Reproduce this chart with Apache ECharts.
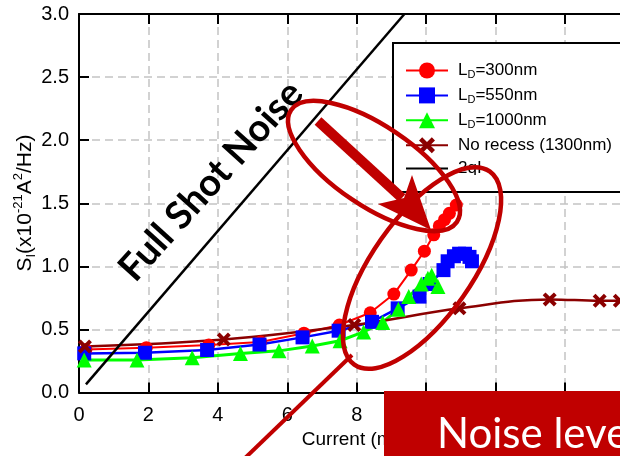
<!DOCTYPE html>
<html><head><meta charset="utf-8">
<script src="https://cdn.jsdelivr.net/npm/echarts@6/dist/echarts.min.js"></script>
<style>html,body{margin:0;padding:0;background:#fff}#c{width:620px;height:456px}</style>
</head><body><div id="c"></div>
<script>
// ---- data (Current in mA, S_I in 1e-21 A^2/Hz) ----
const seriesNames = ['LD=300nm', 'LD=550nm', 'LD=1000nm', 'No recess (1300nm)', '2qI'];
const ld300 = [[0.2,0.34],[1.94,0.355],[3.74,0.376],[5.23,0.40],[6.48,0.47],[7.5,0.535],[8.39,0.632],[9.07,0.78],[9.57,0.97],[9.95,1.12],[10.22,1.25],[10.38,1.32],[10.53,1.37],[10.67,1.42],[10.87,1.486]];
const ld550 = [[0.15,0.31],[1.9,0.315],[3.69,0.337],[5.2,0.38],[6.44,0.437],[7.48,0.49],[8.44,0.56],[9.18,0.667],[9.81,0.76],[10.1,0.86],[10.5,0.97],[10.62,1.04],[10.8,1.08],[10.95,1.1],[11.12,1.1],[11.25,1.075],[11.32,1.04]];
const ld1000 = [[0.15,0.257],[1.67,0.257],[3.26,0.276],[4.65,0.31],[5.76,0.33],[6.72,0.368],[7.52,0.41],[8.2,0.48],[8.75,0.555],[9.2,0.66],[9.5,0.76],[9.86,0.86],[10.05,0.905],[10.16,0.93],[10.34,0.84]];
const noRecess = [[0.17,0.365],[4.17,0.42],[7.93,0.535],[10.96,0.667],[13.56,0.738],[15.0,0.727],[15.58,0.727]];
const fullShot = [[0.2,0.064],[9.375,3.0]];
const xMin = 0, xMax = 16, xStep = 2;
const yMin = 0, yMax = 3, yStep = 0.5;
const xTitle = 'Current (mA)';
const annotationText = 'Noise level';
const shotText = 'Full Shot Noise';

const FONT = "'Liberation Sans', Arial, sans-serif";
const DARKRED = '#C00000';
const xPath = 'path://M2,0 L5,3 L8,0 L10,2 L7,5 L10,8 L8,10 L5,7 L2,10 L0,8 L3,5 L0,2 Z';

const chart = echarts.init(document.getElementById('c'), null, {renderer: 'canvas'});

const gridLine = {show: true, lineStyle: {color: '#c4c4c4', width: 1.5, type: [8, 5]}};
const axisLine = {show: true, onZero: false, lineStyle: {color: '#000', width: 2}};
const axisTick = {show: true, inside: true, length: 10, lineStyle: {color: '#000', width: 2}};

const legendData = seriesNames.map((n, i) => i === 4
  ? {name: n, itemStyle: {color: 'rgba(0,0,0,0)', borderWidth: 0}}
  : {name: n});

const option = {
  animation: false,
  backgroundColor: '#fff',
  grid: {left: 79, top: 14, width: 555.4, height: 378.5, containLabel: false, outerBoundsMode: 'none'},
  xAxis: [{
    type: 'value', min: xMin, max: xMax, interval: xStep, position: 'bottom',
    axisLine, axisTick, splitLine: gridLine,
    axisLabel: {color: '#000', fontSize: 20, fontFamily: FONT, margin: 13},
    name: xTitle, nameLocation: 'middle', nameGap: 35,
    nameTextStyle: {color: '#000', fontSize: 19, fontFamily: FONT}
  }, {
    type: 'value', min: xMin, max: xMax, interval: xStep, position: 'top',
    axisLine, axisTick, splitLine: {show: false}, axisLabel: {show: false}
  }],
  yAxis: [{
    type: 'value', min: yMin, max: yMax, interval: yStep,
    axisLine, axisTick, splitLine: gridLine,
    axisLabel: {color: '#000', fontSize: 20, fontFamily: FONT, margin: 10,
      formatter: v => v.toFixed(1)}
  }],
  legend: {
    orient: 'vertical', left: 393, top: 43,
    padding: [19, 20, 15, 12],
    itemWidth: 42, itemHeight: 20, itemGap: 6.4,
    backgroundColor: '#fff', borderColor: '#000', borderWidth: 2,
    data: legendData,
    formatter: function (name) {
      if (name.indexOf('LD=') === 0) return '{f|L}{s|D}{n|' + name.slice(2) + '}';
      return '{f|' + name + '}';
    },
    textStyle: {
      color: '#000', fontSize: 17, fontFamily: FONT,
      rich: {
        f: {fontSize: 17, fontFamily: FONT, color: '#000', lineHeight: 20, padding: [0, 0, 0, 5], verticalAlign: 'middle'},
        n: {fontSize: 17, fontFamily: FONT, color: '#000', lineHeight: 20, verticalAlign: 'middle'},
        s: {fontSize: 11, fontFamily: FONT, color: '#000', lineHeight: 11, verticalAlign: 'bottom'}
      }
    }
  },
  series: [
    {name: seriesNames[0], type: 'line', data: ld300, symbol: 'circle', symbolSize: 13,
      itemStyle: {color: '#ff0000'}, lineStyle: {color: '#ff0000', width: 2}},
    {name: seriesNames[1], type: 'line', data: ld550, symbol: 'rect', symbolSize: 14,
      itemStyle: {color: '#0000ff'}, lineStyle: {color: '#0000ff', width: 2.5}},
    {name: seriesNames[2], type: 'line', data: ld1000, symbol: 'triangle', symbolSize: 15,
      itemStyle: {color: '#00ff00'}, lineStyle: {color: '#00ff00', width: 3}},
    {name: seriesNames[3], type: 'line', data: noRecess, symbol: xPath, symbolSize: 14, smooth: 0.4,
      itemStyle: {color: '#8b0000'}, lineStyle: {color: '#8b0000', width: 2.5}},
    {name: seriesNames[4], type: 'line', data: fullShot, symbol: 'none',
      itemStyle: {color: '#000'}, lineStyle: {color: '#000', width: 2.5}}
  ],
  graphic: [
    {type: 'text', x: 25, y: 203, rotation: Math.PI / 2, z: 10,
      style: {
        text: '{n|S}{sub|I}{n|(x10}{sup|-21}{n|A}{sup|2}{n|/Hz)}',
        align: 'center', verticalAlign: 'middle',
        rich: {
          n: {fontSize: 21, fontFamily: FONT, fill: '#000', lineHeight: 26, verticalAlign: 'middle'},
          sub: {fontSize: 13, fontFamily: FONT, fill: '#000', lineHeight: 13, verticalAlign: 'bottom'},
          sup: {fontSize: 13, fontFamily: FONT, fill: '#000', lineHeight: 13, verticalAlign: 'top'}
        }
      }},
    {type: 'text', x: 211, y: 181, rotation: 48 * Math.PI / 180, z: 10,
      style: {text: shotText, font: 'bold 38px Lato', fill: '#000', align: 'center', verticalAlign: 'middle'}},
    {type: 'rect', z: 40, shape: {x: 455, y: 175, width: 40, height: 15}, style: {fill: '#fff'}},
    {type: 'ellipse', x: 374, y: 166, rotation: -34 * Math.PI / 180, z: 50,
      shape: {cx: 0, cy: 0, rx: 100, ry: 40}, style: {fill: 'none', stroke: DARKRED, lineWidth: 4.5}},
    {type: 'ellipse', x: 422, y: 268, rotation: 55 * Math.PI / 180, z: 50,
      shape: {cx: 0, cy: 0, rx: 118, ry: 50}, style: {fill: 'none', stroke: DARKRED, lineWidth: 4.5}},
    {type: 'line', z: 51, shape: {x1: 318, y1: 121, x2: 402, y2: 198}, style: {stroke: DARKRED, lineWidth: 10}},
    {type: 'polygon', z: 51, shape: {points: [[378, 204], [431, 230], [412, 175], [404, 198]]}, style: {fill: DARKRED}},
    {type: 'line', z: 50, shape: {x1: 352, y1: 355, x2: 243, y2: 460}, style: {stroke: DARKRED, lineWidth: 4}},
    {type: 'rect', z: 60, shape: {x: 384, y: 391, width: 300, height: 80}, style: {fill: DARKRED}},
    {type: 'text', x: 437, y: 434, z: 61,
      style: {text: annotationText, font: '42px Lato', fill: '#fff', align: 'left', verticalAlign: 'middle'}}
  ]
};
chart.setOption(option);
</script>
</body></html>
